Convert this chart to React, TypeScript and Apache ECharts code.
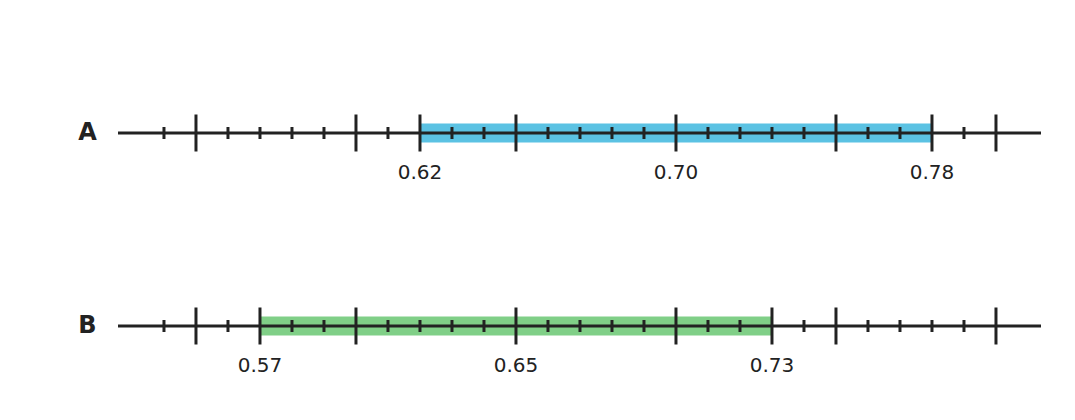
import React, { useEffect, useRef } from "react";
import * as echarts from "echarts";

const rowNames = ["A", "B"];
const rangeStarts = [0.62, 0.57];
const rangeEnds = [0.78, 0.73];
const rangeMids = [0.7, 0.65];
const rangeColors = ["#5bc2e3", "#80cf87"];
const minorTicks = [0.54, 0.56, 0.57, 0.58, 0.59, 0.61, 0.62, 0.63, 0.64, 0.66, 0.67, 0.68, 0.69, 0.71, 0.72, 0.73, 0.74, 0.76, 0.77, 0.78, 0.79];
const majorTicks = [0.55, 0.6, 0.65, 0.7, 0.75, 0.8];
const axisMin = 0.5261;
const axisMax = 0.8136;

const INK = "#222222";

export default function App() {
  const ref = useRef<HTMLDivElement>(null);
  useEffect(() => {
    if (!ref.current) return;
    const chart = echarts.init(ref.current, null, { renderer: "svg" });
    const centers = [133, 326];
    const grids: any[] = [];
    const xAxes: any[] = [];
    const yAxes: any[] = [];
    const series: any[] = [];
    rowNames.forEach((name, i) => {
      grids.push({ left: 119.5, right: 35.5, top: centers[i] - 50, height: 100 });
      xAxes.push({ gridIndex: i, type: "value", min: axisMin, max: axisMax, show: false });
      yAxes.push({ gridIndex: i, type: "value", min: -1, max: 1, show: false });
      const start = rangeStarts[i];
      const end = rangeEnds[i];
      series.push({
        type: "custom",
        xAxisIndex: i,
        yAxisIndex: i,
        z: 1,
        silent: true,
        data: [[start, end]],
        renderItem: (params: any, api: any) => {
          const p0 = api.coord([api.value(0), 0]);
          const p1 = api.coord([api.value(1), 0]);
          return {
            type: "rect",
            shape: { x: p0[0], y: p0[1] - 9.5, width: p1[0] - p0[0], height: 19 },
            style: { fill: rangeColors[i] },
          };
        },
      });
      series.push({
        type: "custom",
        xAxisIndex: i,
        yAxisIndex: i,
        z: 2,
        silent: true,
        data: [[axisMin, axisMax]],
        renderItem: (params: any, api: any) => {
          const p0 = api.coord([api.value(0), 0]);
          const p1 = api.coord([api.value(1), 0]);
          return {
            type: "line",
            shape: { x1: p0[0] - 1.5, y1: p0[1], x2: p1[0] + 1.5, y2: p1[1] },
            style: { stroke: INK, lineWidth: 3 },
          };
        },
      });
      const minors = minorTicks.filter((v) => Math.abs(v - start) > 1e-6 && Math.abs(v - end) > 1e-6);
      series.push({
        type: "custom",
        xAxisIndex: i,
        yAxisIndex: i,
        z: 3,
        silent: true,
        data: minors.map((v) => [v]),
        renderItem: (params: any, api: any) => {
          const p = api.coord([api.value(0), 0]);
          return {
            type: "line",
            shape: { x1: p[0], y1: p[1] - 6, x2: p[0], y2: p[1] + 6 },
            style: { stroke: INK, lineWidth: 3 },
          };
        },
      });
      const majors = [...majorTicks, start, end];
      series.push({
        type: "custom",
        xAxisIndex: i,
        yAxisIndex: i,
        z: 3,
        silent: true,
        data: majors.map((v) => [v]),
        renderItem: (params: any, api: any) => {
          const p = api.coord([api.value(0), 0]);
          return {
            type: "line",
            shape: { x1: p[0], y1: p[1] - 18.5, x2: p[0], y2: p[1] + 18.5 },
            style: { stroke: INK, lineWidth: 3 },
          };
        },
      });
      series.push({
        type: "custom",
        xAxisIndex: i,
        yAxisIndex: i,
        z: 4,
        silent: true,
        data: [start, rangeMids[i], end].map((v) => [v]),
        renderItem: (params: any, api: any) => {
          const v = api.value(0);
          const p = api.coord([v, 0]);
          return {
            type: "text",
            x: p[0],
            y: p[1] + 39,
            style: {
              text: v.toFixed(2),
              fill: INK,
              fontFamily: "DejaVu Sans",
              fontSize: 20,
              align: "center",
              verticalAlign: "middle",
            },
          };
        },
      });
      series.push({
        type: "custom",
        xAxisIndex: i,
        yAxisIndex: i,
        z: 4,
        silent: true,
        data: [[axisMin]],
        renderItem: (params: any, api: any) => {
          const p = api.coord([api.value(0), 0]);
          return {
            type: "text",
            x: p[0] - 32,
            y: p[1] - 1,
            style: {
              text: name,
              fill: INK,
              fontFamily: "DejaVu Sans",
              fontWeight: "bold",
              fontSize: 24,
              align: "center",
              verticalAlign: "middle",
            },
          };
        },
      });
    });
    chart.setOption({
      animation: false,
      backgroundColor: "#ffffff",
      grid: grids,
      xAxis: xAxes,
      yAxis: yAxes,
      series,
    });
    return () => chart.dispose();
  }, []);
  return (
    <div
      ref={ref}
      style={{ position: "fixed", left: 0, top: 0, width: 1075, height: 420, background: "#fff" }}
    />
  );
}
